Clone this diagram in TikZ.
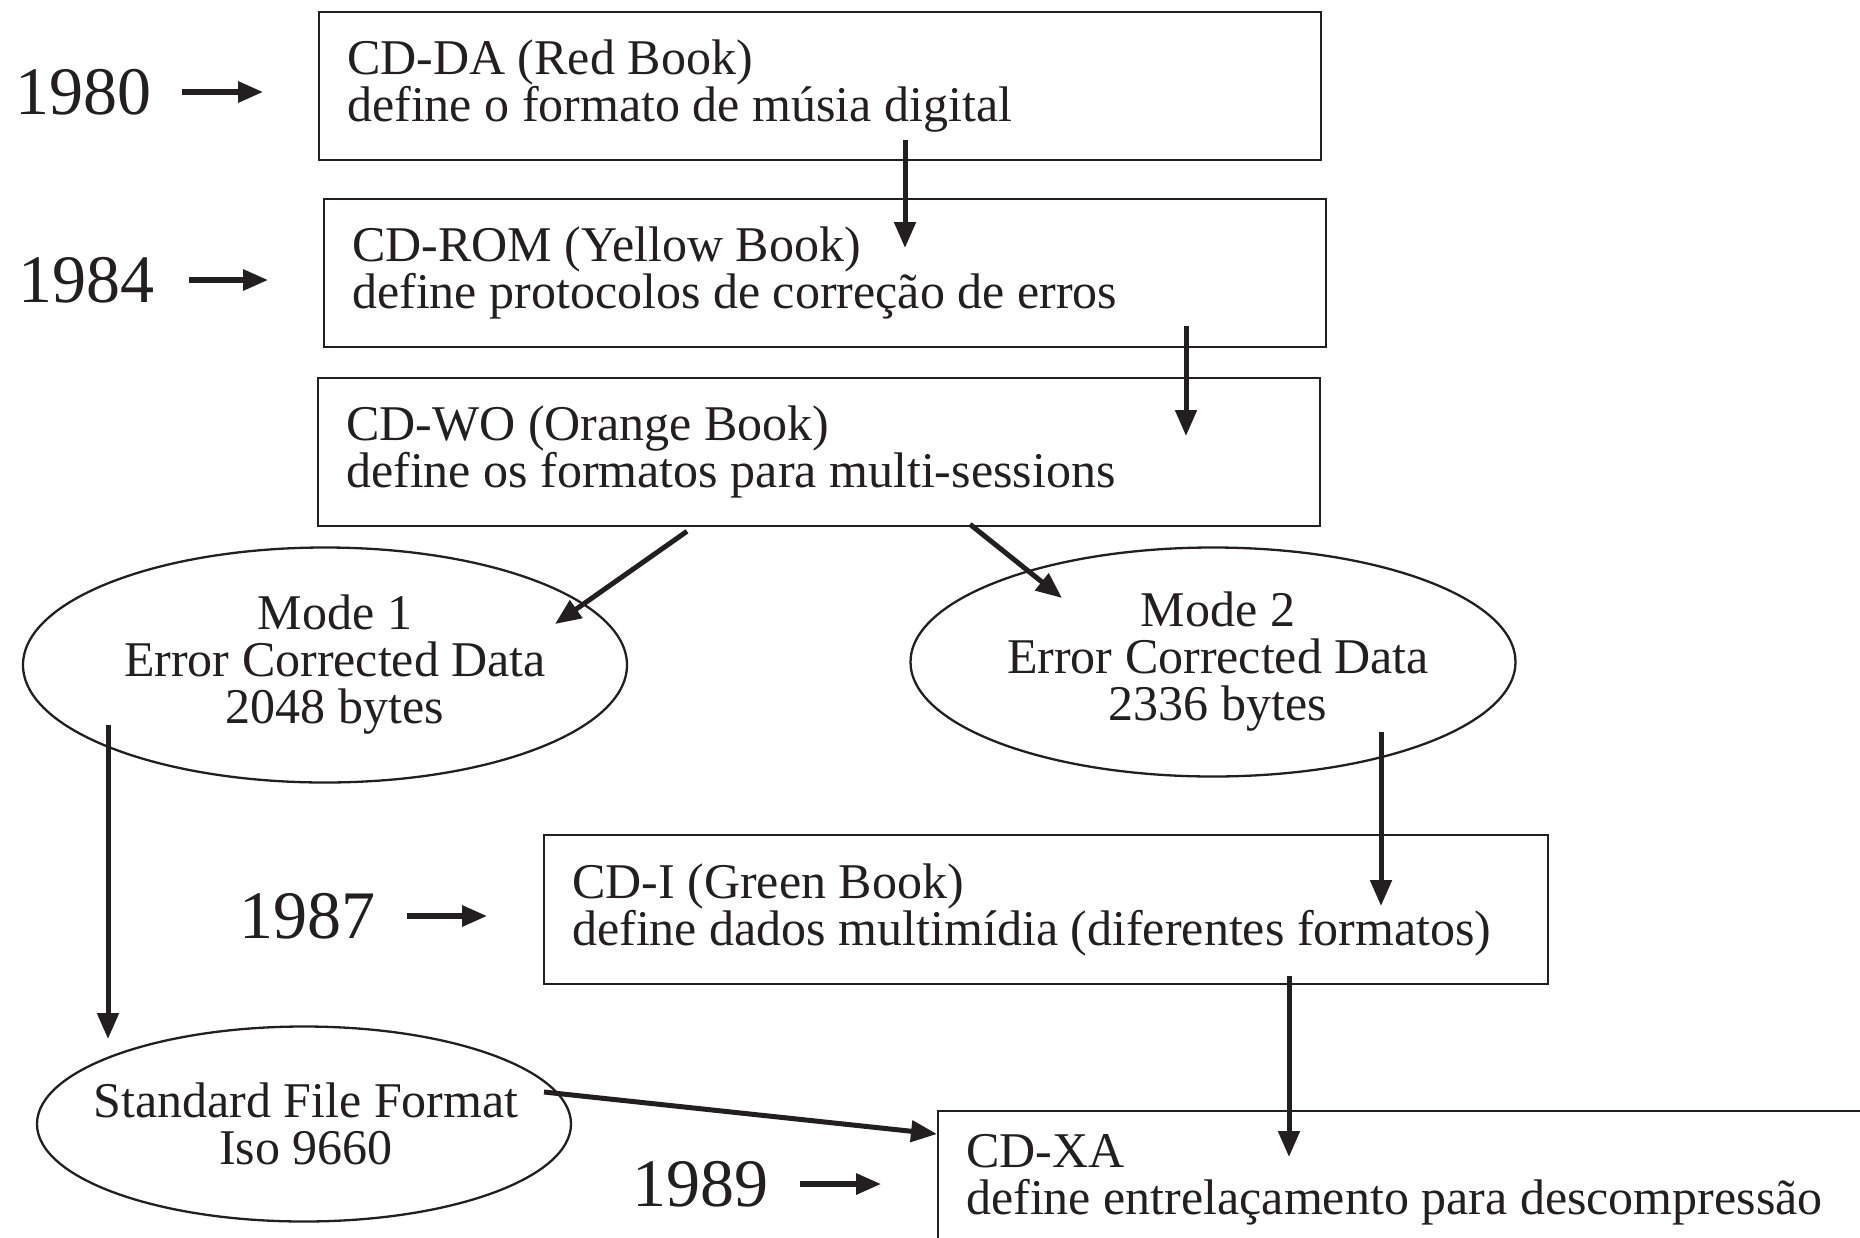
\documentclass[tikz,border=0pt]{standalone}
\usepackage{fontspec}
\setmainfont{Liberation Serif}
\usetikzlibrary{arrows.meta,shapes.geometric}
\definecolor{ink}{RGB}{35,31,32}
\begin{document}
\begin{tikzpicture}[x=1pt,y=-1pt,
  every node/.style={text=ink, font=\fontsize{50}{47}\selectfont},
  book/.style={draw=ink, line width=2.3pt, rectangle, anchor=north west,
    align=flush left, inner xsep=28pt, inner ysep=0pt},
  mode/.style={draw=ink, line width=2.3pt, ellipse, inner sep=0pt},
  modetext/.style={align=center, inner sep=0pt},
  year/.style={font=\fontsize{68}{68}\selectfont, inner sep=0pt},
  arr/.style={draw=ink, line width=5pt, -{Triangle[length=26pt,width=21pt]}},
  yarr/.style={draw=ink, line width=5.5pt, -{Triangle[length=25pt,width=20pt]}}]

\useasboundingbox (0,0) rectangle (1860,1237);

% Standards boxes
\node[book, text width=946pt, minimum height=148pt] (cdda) at (318,11)
  {CD-DA (Red Book)\\define o formato de músia digital};
\node[book, text width=946pt, minimum height=148pt] (cdrom) at (323,198)
  {CD-ROM (Yellow Book)\\define protocolos de correção de erros};
\node[book, text width=946pt, minimum height=148pt] (cdwo) at (317,377)
  {CD-WO (Orange Book)\\define os formatos para multi-sessions};
\node[book, text width=948pt, minimum height=149pt] (cdi) at (543,834)
  {CD-I (Green Book)\\define dados multimídia (diferentes formatos)};
\node[book, text width=954pt, minimum height=138pt] (cdxa) at (937,1110)
  {CD-XA\\define entrelaçamento para descompressão};

% Data modes and file format
\node[mode, minimum width=604pt, minimum height=235pt,
  label={[modetext, xshift=10pt]center:Mode 1\\Error Corrected Data\\2048 bytes}] (mode1) at (325,665) {};
\node[mode, minimum width=605pt, minimum height=229pt,
  label={[modetext, xshift=5pt]center:Mode 2\\Error Corrected Data\\2336 bytes}] (mode2) at (1213,662) {};
\node[mode, minimum width=534pt, minimum height=195pt,
  label={[modetext, xshift=2pt]center:Standard File Format\\Iso 9660}] (std) at (304,1124) {};

% Years
\node[year] (y80) at (83,92) {1980};
\node[year] (y84) at (86,280) {1984};
\node[year] (y87) at (307,916) {1987};
\node[year] (y89) at (700,1184) {1989};

\draw[yarr] ([xshift=31pt]y80.east) -- ++(81,0);
\draw[yarr] ([xshift=35pt]y84.east) -- ++(79,0);
\draw[yarr] ([xshift=32pt]y87.east) -- ++(80,0);
\draw[yarr] ([xshift=32pt]y89.east) -- ++(81,0);

% Connections
\draw[arr] ([shift={(587,-21)}]cdda.south west) -- ([shift={(582,50)}]cdrom.north west);
\draw[arr] ([shift={(863,-22)}]cdrom.south west) -- ([shift={(869,59)}]cdwo.north west);
\draw[arr] ([shift={(370,4)}]cdwo.south west) -- ([shift={(230,-41)}]mode1.center);
\draw[arr] ([shift={(653,-3)}]cdwo.south west) -- ([shift={(-151,-64)}]mode2.center);
\draw[arr] ([shift={(-217,60)}]mode1.center) -- ([shift={(-196,-85)}]std.center);
\draw[arr] ([shift={(168,70)}]mode2.center) -- ([shift={(838,72)}]cdi.north west);
\draw[arr] ([shift={(746,-9)}]cdi.south west) -- ([shift={(352,47)}]cdxa.north west);
\draw[arr] ([shift={(240,-32)}]std.center) -- ([shift={(0,24)}]cdxa.north west);
\end{tikzpicture}
\end{document}
